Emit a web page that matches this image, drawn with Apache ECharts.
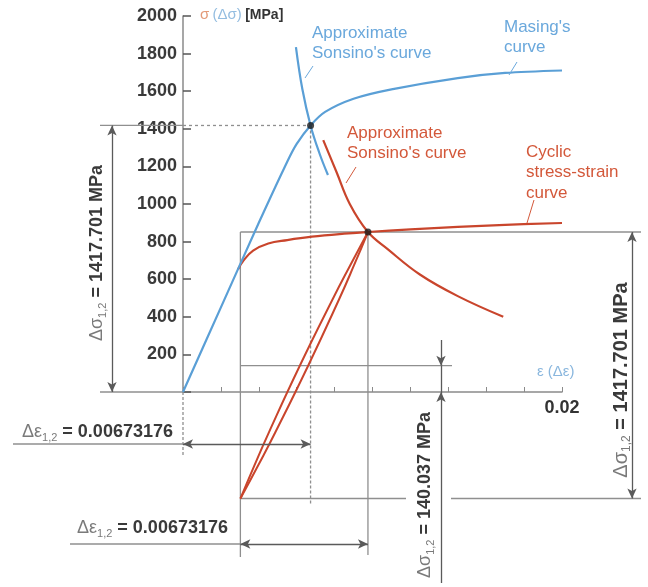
<!DOCTYPE html>
<html>
<head>
<meta charset="utf-8">
<script src="https://cdn.jsdelivr.net/npm/echarts@6/dist/echarts.min.js"></script>
<style>
  html, body { margin: 0; padding: 0; background: #fff; }
  #chart { width: 648px; height: 587px; }
</style>
</head>
<body>
<div id="chart"></div>
<script>
// key results
var dSigma = 1417.701      // Δσ1,2 [MPa]
var dEps = 0.00673176      // Δε1,2
var dSigmaSmall = 140.037  // small Δσ1,2 [MPa]
var tipStrain = 0.00976    // cyclic curve / red Sonsino intersection
var tipStress = 851

// Masing's curve (blue)
var masingStrain = [0, 0.002, 0.004, 0.0055, 0.006, 0.00673, 0.0075, 0.009, 0.011, 0.0145, 0.017, 0.020]
var masingStress = [0, 450, 900, 1225, 1320, 1418, 1490, 1560, 1610, 1670, 1697, 1710]

// cyclic stress-strain curve (red)
var cyclicStrain = [0.0029, 0.0032, 0.0037, 0.0045, 0.0055, 0.0068, 0.0085, 0.00976, 0.012, 0.0145, 0.017, 0.020]
var cyclicStress = [652, 700, 752, 790, 808, 826, 842, 851, 865, 878, 889, 899]

// approximate Sonsino's curves
var sonBlueStrain = [0.00596, 0.0063, 0.00673, 0.0072, 0.00765]
var sonBlueStress = [1835, 1610, 1418, 1270, 1154]
var sonRedStrain = [0.0074, 0.0081, 0.0088, 0.00976, 0.0108, 0.0125, 0.0145, 0.0169]
var sonRedStress = [1340, 1170, 1000, 851, 760, 625, 510, 400]

// hysteresis loop branches
var loopAStrain = [0.00303, 0.00377, 0.00454, 0.00617, 0.00791, 0.00882, 0.00976]
var loopAStress = [-567, -390, -213, 141, 496, 673, 851]
var loopBStrain = [0.00303, 0.00397, 0.00488, 0.00661, 0.00825, 0.00902, 0.00976]
var loopBStress = [-567, -390, -213, 141, 496, 673, 851]

// layout (pixels)
var W = 648, H = 587, GL = 183, GT = 16, GW = 379, GH = 376
var kx = 0.02 / GW, ky = 2000 / GH
function ex (px) { return (px - GL) * kx }
function ey (py) { return (GT + GH - py) * ky }

var FONT = 'Liberation Sans, Arial, sans-serif'
var BLUE = '#5a9fd6', RED = '#c9452c', GRAY = '#8f8f8f'
var BLUE_T = '#6aa8dc', RED_T = '#d3583a'

function zip (xs, ys) {
  return xs.map(function (x, i) { return [x, ys[i]] })
}
function seg (points, color, width, type, z, smooth) {
  return {
    type: 'line', xAxisIndex: 1, yAxisIndex: 1, data: points,
    symbol: 'none', clip: false, silent: true, smooth: smooth || false,
    lineStyle: {color: color, width: width, type: type || 'solid'}, z: z || 1
  }
}

var loX = tipStrain - dEps, loY = tipStress - dSigma
var xL = ex(112), xR = ex(632), x140 = ex(441)
var yE1 = ey(444), yE2 = ey(544)

var series = [
  seg([[ex(100), dSigma], [0, dSigma]], GRAY, 1.3),
  seg([[0, dSigma], [dEps, dSigma]], GRAY, 1.3, [3, 3]),
  seg([[ex(100), 0], [0, 0]], GRAY, 1.3),
  seg([[dEps, dSigma], [dEps, ey(505)]], GRAY, 1.3, [3, 2]),
  seg([[0, 0], [0, ey(455)]], GRAY, 1.3, [3, 2]),
  seg([[ex(13), yE1], [0, yE1]], GRAY, 1.5),
  seg([[loX, tipStress], [ex(641), tipStress]], GRAY, 1.5),
  seg([[loX, tipStress], [loX, ey(557)]], GRAY, 1.3),
  seg([[tipStrain, tipStress], [tipStrain, ey(555)]], GRAY, 1.3),
  seg([[loX, loY], [ex(406), loY]], GRAY, 1.5),
  seg([[ex(451), loY], [ex(641), loY]], GRAY, 1.5),
  seg([[ex(70), yE2], [loX, yE2]], GRAY, 1.5),
  seg([[loX, dSigmaSmall], [ex(452), dSigmaSmall]], GRAY, 1.3),
  {
    type: 'line', xAxisIndex: 1, yAxisIndex: 1, data: [], clip: false, silent: true,
    markLine: {
      silent: true, animation: false,
      symbol: ['arrow', 'arrow'], symbolSize: [7, 10],
      label: {show: false},
      lineStyle: {color: '#5a5a5a', width: 1.3, type: 'solid'},
      data: [
        [{coord: [xL, dSigma]}, {coord: [xL, 0]}],
        [{coord: [xR, tipStress]}, {coord: [xR, loY]}],
        [{coord: [0, yE1]}, {coord: [dEps, yE1]}],
        [{coord: [loX, yE2]}, {coord: [tipStrain, yE2]}],
        [{coord: [x140, ey(340)], symbol: 'none'}, {coord: [x140, dSigmaSmall], symbol: 'arrow'}],
        [{coord: [x140, dSigmaSmall], symbol: 'none'}, {coord: [x140, 0], symbol: 'none'}],
        [{coord: [x140, ey(583)], symbol: 'none'}, {coord: [x140, 0], symbol: 'arrow'}]
      ]
    }
  },
  seg(zip(cyclicStrain, cyclicStress), RED, 2.2, 'solid', 3, 0.4),
  seg(zip(sonRedStrain, sonRedStress), RED, 2.2, 'solid', 3, 0.4),
  seg(zip(loopAStrain, loopAStress), RED, 2, 'solid', 3, 0.5),
  seg(zip(loopBStrain, loopBStress), RED, 2, 'solid', 3, 0.5),
  seg(zip(masingStrain, masingStress), BLUE, 2.2, 'solid', 4, 0.3),
  seg(zip(sonBlueStrain, sonBlueStress), BLUE, 2.2, 'solid', 4, 0.4),
  {
    type: 'scatter', xAxisIndex: 1, yAxisIndex: 1, clip: false, silent: true,
    data: [[dEps, dSigma], [tipStrain, tipStress]],
    symbolSize: 7, itemStyle: {color: '#1c1c1c'}, z: 6
  }
]

function txt (x, y, text, color, extra) {
  var style = {text: text, fill: color, fontSize: 17, fontFamily: FONT, align: 'left', verticalAlign: 'top', lineHeight: 20}
  for (var k in extra) style[k] = extra[k]
  return {type: 'text', x: x, y: y, style: style, z: 10, silent: true}
}
function dimLabel (x, y, sym, value, rot, size) {
  var fs = size || 18
  return {
    type: 'text', x: x, y: y, rotation: rot || 0, z: 10, silent: true,
    style: {
      text: '{g|Δ' + sym + '}{s|1,2}{n| = ' + value + '}',
      align: rot ? 'center' : 'left', verticalAlign: 'middle',
      rich: {
        g: {fill: '#7a7a7a', fontSize: fs, fontFamily: FONT, lineHeight: fs + 4},
        s: {fill: '#7a7a7a', fontSize: Math.round(fs * 0.62), fontFamily: FONT, lineHeight: fs + 4, verticalAlign: 'bottom'},
        n: {fill: '#3a3a3a', fontSize: fs, fontWeight: 'bold', fontFamily: FONT, lineHeight: fs + 4}
      }
    }
  }
}
function leader (x1, y1, x2, y2, color) {
  return {type: 'line', shape: {x1: x1, y1: y1, x2: x2, y2: y2}, style: {stroke: color, lineWidth: 1}, z: 10, silent: true}
}

var graphics = [
  txt(312, 23, 'Approximate\nSonsino\'s curve', BLUE_T),
  txt(504, 17, 'Masing\'s\ncurve', BLUE_T),
  txt(347, 123, 'Approximate\nSonsino\'s curve', RED_T),
  txt(526, 142, 'Cyclic\nstress-strain\ncurve', RED_T, {lineHeight: 20.5}),
  leader(305, 78, 313, 66, BLUE_T),
  leader(509, 75, 517, 62, BLUE_T),
  leader(346, 183, 356, 167, RED_T),
  leader(527, 223, 534, 200, RED_T),
  {
    type: 'text', x: 200, y: 15, z: 10, silent: true,
    style: {
      text: '{o|σ} {b|(Δσ)} {k|[MPa]}', verticalAlign: 'middle',
      rich: {
        o: {fill: '#e39a78', fontSize: 15, fontFamily: FONT},
        b: {fill: '#94bde0', fontSize: 15, fontFamily: FONT},
        k: {fill: '#333', fontSize: 14, fontWeight: 'bold', fontFamily: FONT}
      }
    }
  },
  txt(537, 372, 'ε (Δε)', '#8ab7de', {fontSize: 15, verticalAlign: 'middle'}),
  dimLabel(22, 432, 'ε', '0.00673176'),
  dimLabel(77, 528, 'ε', '0.00673176'),
  dimLabel(97, 253, 'σ', '1417.701 MPa', Math.PI / 2),
  dimLabel(621, 380, 'σ', '1417.701 MPa', Math.PI / 2, 20),
  dimLabel(425, 495, 'σ', '140.037 MPa', Math.PI / 2)
]

var chart = echarts.init(document.getElementById('chart'))
chart.setOption({
  animation: false,
  grid: [
    {left: GL, top: GT, width: GW, height: GH},
    {left: 0, top: 0, width: W, height: H}
  ],
  xAxis: [
    {
      gridIndex: 0, type: 'value', min: 0, max: 0.02, interval: 0.002,
      axisLine: {lineStyle: {color: '#8a8a8a', width: 1.5}},
      axisTick: {inside: true, length: 5, lineStyle: {color: '#8a8a8a'}},
      splitLine: {show: false},
      axisLabel: {
        formatter: function (v) { return Math.abs(v - 0.02) < 1e-9 ? '0.02' : '' },
        color: '#333', fontSize: 18, fontWeight: 'bold', fontFamily: FONT, margin: 7
      }
    },
    {gridIndex: 1, type: 'value', min: ex(0), max: ex(W), show: false}
  ],
  yAxis: [
    {
      gridIndex: 0, type: 'value', min: 0, max: 2000, interval: 200,
      axisLine: {show: true, lineStyle: {color: '#8a8a8a', width: 1.5}},
      axisTick: {show: true, inside: true, length: 8, lineStyle: {color: '#555', width: 1.5}},
      splitLine: {show: false},
      axisLabel: {
        formatter: function (v) { return v === 0 ? '' : String(v) },
        color: '#3a3a3a', fontSize: 18, fontWeight: 'bold', fontFamily: FONT, margin: 6
      }
    },
    {gridIndex: 1, type: 'value', min: ey(H), max: ey(0), show: false}
  ],
  series: series,
  graphic: graphics
})
</script>
</body>
</html>
